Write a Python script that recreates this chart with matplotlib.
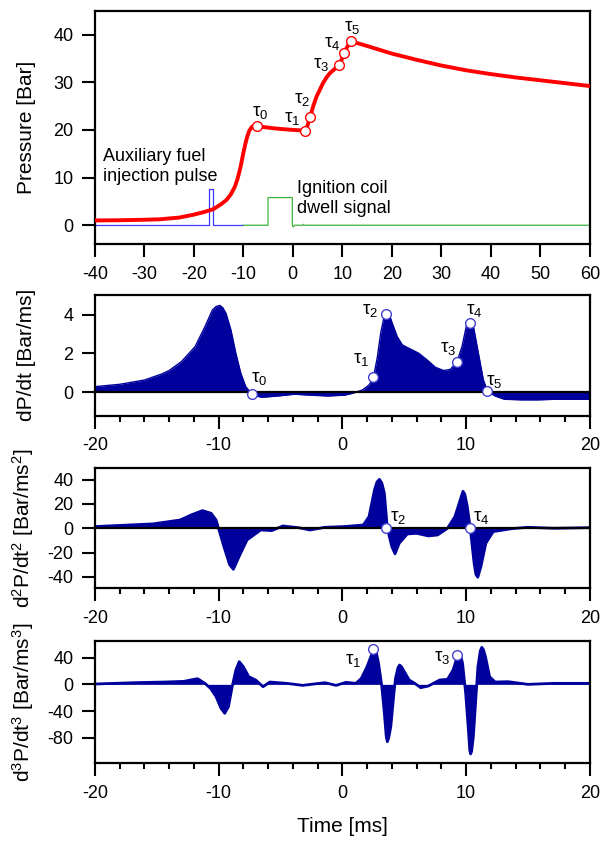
import matplotlib
matplotlib.use("Agg")
import matplotlib.pyplot as plt
from matplotlib.ticker import MultipleLocator

plt.rcParams['font.family'] = ['Liberation Sans', 'DejaVu Sans']
plt.rcParams['mathtext.fontset'] = 'custom'
plt.rcParams['mathtext.rm'] = 'Liberation Sans'
plt.rcParams['mathtext.it'] = 'Liberation Sans'
plt.rcParams['mathtext.bf'] = 'Liberation Sans:bold'
plt.rcParams['axes.unicode_minus'] = False

# ---------------- data ----------------
# Pressure trace
t_p = [-40, -35, -30, -26.9, -23, -20.1, -18, -16.1, -14.5, -13.4, -12.5, -11.7, -11.2, -10.7,
       -10.4, -10.0, -9.6, -9.2, -8.8, -8.3, -7.8, -7.3, -6, -4, -2, 0, 1.5, 2.5, 3.0, 3.5,
       4.1, 4.8, 5.5, 6.1, 6.8, 7.5, 8.5, 9.36, 9.9, 10.37, 11.0, 11.65, 13, 15, 17.5, 20,
       25, 30, 35, 40, 45, 50, 55, 60]
pressure = [1.0, 1.05, 1.15, 1.25, 1.6, 2.2, 2.75, 3.35, 4.4, 5.3, 6.5, 8.1, 9.6, 11.6,
            13.0, 15.1, 17.0, 18.6, 19.8, 20.6, 20.85, 20.8, 20.6, 20.35, 20.15, 20.0, 19.9, 19.85, 21.0, 22.7,
            24.9, 27.0, 28.5, 29.8, 31.0, 31.9, 32.8, 33.7, 34.8, 36.2, 37.4, 38.6, 38.2, 37.6, 36.8, 36.0,
            34.7, 33.5, 32.5, 31.7, 31.0, 30.4, 29.8, 29.2]

# Auxiliary fuel injection pulse
t_inj = [-40, -16.95, -16.95, -16.05, -16.05, -10.0]
inj = [0, 0, 7.5, 7.5, 0, 0]

# Ignition coil dwell signal
t_ign = [-10, -5.0, -5.0, -0.1, -0.1, 0.1, 0.4, 2.0, 2.15, 2.3, 60]
ign = [0, 0, 5.8, 5.8, 0, -0.35, 0, 0, 0.2, 0, 0]

# Characteristic points tau0..tau5
tau_t = [-7.3, 2.5, 3.55, 9.3, 10.3, 11.7]
tau_p = [20.8, 19.85, 22.7, 33.7, 36.2, 38.6]
tau_d1 = [-0.1, 0.77, 4.02, 1.56, 3.59, 0.07]
tau_d2_idx = [2, 4]
tau_d2 = [0, 0]
tau_d3_idx = [1, 3]
tau_d3 = [53, 44]

# First derivative dP/dt
t1 = [-20, -18, -16, -14.6, -14, -13, -11.9, -11.1, -10.5, -10.2, -9.9, -9.65, -9.4, -9.0, -8.6,
      -8.2, -7.8, -7.31, -6.56, -5.2, -3.87, -2.5, -1.18, 0.16, 0.83, 1.63, 2.17, 2.52, 2.84, 3.1,
      3.37, 3.53, 3.78, 4.04, 4.44, 4.85, 5.38, 6.18, 6.85, 7.52, 8.19, 8.73, 9.26, 9.67, 10.07,
      10.25, 10.6, 11.0, 11.4, 11.73, 12.34, 13.1, 14.5, 15.8, 17.2, 20]
d1 = [0.29, 0.41, 0.63, 0.94, 1.12, 1.58, 2.35, 3.38, 4.24, 4.42, 4.48, 4.35, 4.07, 3.21, 2.0,
      0.98, 0.29, -0.1, -0.26, -0.19, -0.1, -0.15, -0.19, -0.15, -0.05, 0.12, 0.38, 0.77, 1.84, 3.04,
      3.89, 4.02, 4.04, 3.55, 2.87, 2.44, 2.27, 2.01, 1.67, 1.29, 1.12, 1.18, 1.56, 2.35, 3.55,
      3.59, 3.38, 2.0, 0.64, 0.07, -0.19, -0.36, -0.39, -0.39, -0.36, -0.36]

# Second derivative d2P/dt2
t2 = [-20, -15.3, -13.1, -12.2, -11.3, -10.6, -10.2, -10.0, -9.57, -9.1, -8.8, -8.33, -7.7, -6.6,
      -5.7, -4.8, -3.55, -2.6, -1.4, 0.15, 1.7, 2.16, 2.6, 2.8, 3.0, 3.2, 3.4, 3.64, 4.0, 4.26,
      4.6, 5.25, 6.0, 6.95, 7.7, 8.5, 9.1, 9.57, 9.75, 9.9, 10.1, 10.34, 10.65, 10.8, 10.95, 11.2,
      11.6, 12.2, 13.7, 15.0, 17.1, 20]
d2 = [1.4, 3.6, 6.8, 11, 14.5, 12.3, 6.8, 0, -15, -30, -33.7, -23, -9.6, -1.4,
      -1.9, 1.9, 0.5, -1.4, 0.8, 1.4, 2.7, 9.6, 31.5, 38, 40.2, 37, 28.7, 0, -15, -21,
      -12.3, -4.7, -4.1, -6.3, -5.5, 0, 9.6, 24.6, 30.4, 28, 17.8, 0, -28.7, -38, -40.2, -31.5,
      -12.3, -2.7, -0.3, 0.8, 0, 0.5]

# Third derivative d3P/dt3
t3 = [-20, -16.8, -14.3, -12.8, -11.7, -11.1, -10.65, -10.2, -9.8, -9.5, -9.2, -8.9, -8.6, -8.33,
      -8.0, -7.56, -7.0, -6.4, -5.86, -4.5, -3.2, -1.4, -0.5, 0.3, 1.1, 1.54, 2.0, 2.4, 2.56, 2.75,
      2.93, 3.18, 3.4, 3.55, 3.64, 3.75, 3.92, 4.17, 4.3, 4.5, 4.63, 4.8, 4.94, 5.4, 5.86, 6.33,
      6.95, 7.87, 8.5, 8.95, 9.2, 9.4, 9.6, 9.72, 9.97, 10.19, 10.3, 10.37, 10.45, 10.59, 10.8,
      10.96, 11.15, 11.27, 11.4, 11.57, 11.9, 12.35, 13.4, 15.0, 17.1, 20]
d3 = [0.5, 2.5, 3.5, 4.5, 8.5, 1.5, -6, -18.4, -35.9, -43.3, -33.4, -3.5, 21.4, 33.9,
      26.4, 11.5, 6.5, -3.5, 3.5, 1.5, -1.5, 2.5, -1.5, 3, 1.5, 9, 26.4, 46, 52, 47,
      31.4, -1, -43.3, -78, -85.7, -80, -63, -13.4, 9, 25, 28.9, 26, 21.4, 6.5, 1.5, -5,
      -2.5, 6.5, 7.5, 21.4, 36, 43, 40, 31.4, -13.4, -68, -98, -104, -100, -78, -18.4,
      26.4, 50, 55.3, 52, 41.3, 11.5, 3.5, 4, 0, 1.5, 1.5]

tau_names = [r'$\tau_0$', r'$\tau_1$', r'$\tau_2$', r'$\tau_3$', r'$\tau_4$', r'$\tau_5$']

# ---------------- styles ----------------
RED = '#ff0000'
NAVY = '#00009c'
MEDGE = '#4040d0'
TICK_FS = 13
LABEL_FS = 15
TAU_FS = 13.5

fig = plt.figure(figsize=(6, 8.41), dpi=100)
L, W = 0.158, 0.825
ax1 = fig.add_axes([L, 0.7095, W, 0.2778])
ax2 = fig.add_axes([L, 0.5054, W, 0.1442])
ax3 = fig.add_axes([L, 0.3005, W, 0.1427])
ax4 = fig.add_axes([L, 0.0924, W, 0.1458])

for ax in (ax1, ax2, ax3, ax4):
    for s in ax.spines.values():
        s.set_linewidth(1.6)
    ax.tick_params(which='major', direction='out', length=9.3, width=1.5,
                   labelsize=TICK_FS, top=False, right=False, pad=6)
    ax.tick_params(which='minor', direction='out', length=4.5, width=1.5,
                   top=False, right=False)
    ax.yaxis.set_label_coords(-0.118, 0.5)

# ---- panel 1 ----
ax1.plot(t_inj, inj, color='#3a3aff', lw=0.9)
ax1.plot(t_ign, ign, color='#3cb43c', lw=0.9)
ax1.plot(t_p, pressure, color=RED, lw=2.8, solid_capstyle='round', zorder=3)
ax1.plot(tau_t, tau_p, 'o', ms=7, mfc='white', mec=RED, mew=1.0, zorder=4)
off1 = [(2.6, 9.5), (-9.5, 9), (-6, 12.7), (-13, 0), (-8.4, 6.8), (0.7, 10)]
for i in range(6):
    ax1.annotate(tau_names[i], (tau_t[i], tau_p[i]), xytext=off1[i], textcoords='offset points',
                 ha='center', va='center', fontsize=TAU_FS)
ax1.text(-38.3, 12.3, 'Auxiliary fuel\ninjection pulse', fontsize=13, ha='left', va='center',
         linespacing=1.2)
ax1.text(0.9, 5.6, 'Ignition coil\ndwell signal', fontsize=13, ha='left', va='center',
         linespacing=1.2)
ax1.set_xlim(-40, 60)
ax1.set_ylim(-4, 45)
ax1.xaxis.set_major_locator(MultipleLocator(10))
ax1.yaxis.set_major_locator(MultipleLocator(10))
ax1.set_ylabel('Pressure [Bar]', fontsize=LABEL_FS)

# ---- panel 2 ----
ax2.fill_between(t1, d1, 0, color=NAVY, lw=0)
ax2.plot(t1, d1, color=NAVY, lw=1.0)
ax2.axhline(0, color='black', lw=1.6, zorder=2)
ax2.plot(tau_t, tau_d1, 'o', ms=7, mfc='white', mec=MEDGE, mew=1.0, zorder=4)
off2 = [(5, 11.5), (-9, 12.5), (-12, 2.6), (-6.7, 9.4), (3.3, 8.6), (4.8, 6.7)]
for i in range(6):
    ax2.annotate(tau_names[i], (tau_t[i], tau_d1[i]), xytext=off2[i], textcoords='offset points',
                 ha='center', va='center', fontsize=TAU_FS)
ax2.set_ylim(-1.22, 5.03)
ax2.yaxis.set_major_locator(MultipleLocator(2))
ax2.set_ylabel('dP/dt [Bar/ms]', fontsize=LABEL_FS)

# ---- panel 3 ----
ax3.fill_between(t2, d2, 0, color=NAVY, lw=0)
ax3.plot(t2, d2, color=NAVY, lw=2.0)
ax3.axhline(0, color='black', lw=1.6, zorder=2)
tx2 = [tau_t[i] for i in tau_d2_idx]
ax3.plot(tx2, tau_d2, 'o', ms=7, mfc='white', mec=MEDGE, mew=1.0, zorder=4)
for k, i in enumerate(tau_d2_idx):
    ax3.annotate(tau_names[i], (tx2[k], tau_d2[k]), xytext=(8.3, 8), textcoords='offset points',
                 ha='center', va='center', fontsize=TAU_FS)
ax3.set_ylim(-49.3, 49.3)
ax3.yaxis.set_major_locator(MultipleLocator(20))
ax3.set_ylabel(r'd$^2$P/dt$^2$ [Bar/ms$^2$]', fontsize=LABEL_FS)

# ---- panel 4 ----
ax4.fill_between(t3, d3, 0, color=NAVY, lw=0)
ax4.plot(t3, d3, color=NAVY, lw=2.0)
tx3 = [tau_t[i] for i in tau_d3_idx]
ax4.plot(tx3, tau_d3, 'o', ms=7, mfc='white', mec=MEDGE, mew=1.0, zorder=4)
off4 = [(-14.6, -8.6), (-11, -1.7)]
for k, i in enumerate(tau_d3_idx):
    ax4.annotate(tau_names[i], (tx3[k], tau_d3[k]), xytext=off4[k], textcoords='offset points',
                 ha='center', va='center', fontsize=TAU_FS)
ax4.set_ylim(-118, 65.3)
ax4.yaxis.set_major_locator(MultipleLocator(40))
ax4.set_ylabel(r'd$^3$P/dt$^3$ [Bar/ms$^3$]', fontsize=LABEL_FS)
ax4.set_xlabel('Time [ms]', fontsize=LABEL_FS, labelpad=11)

for ax in (ax2, ax3, ax4):
    ax.set_xlim(-20, 20)
    ax.xaxis.set_major_locator(MultipleLocator(10))
    ax.xaxis.set_minor_locator(MultipleLocator(2))

fig.savefig('out.png', dpi=100)
